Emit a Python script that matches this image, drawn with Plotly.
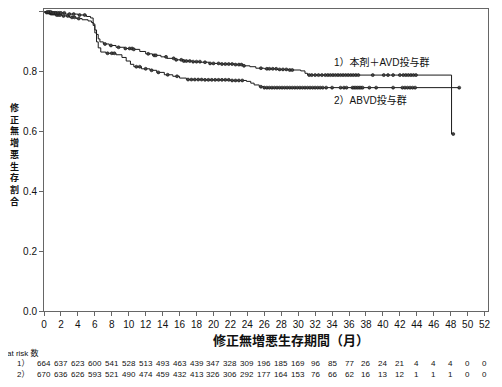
import plotly.graph_objects as go
import numpy as np

# ---- data ----
g1_label = "1）本剤＋AVD投与群"
g2_label = "2）ABVD投与群"

g1_t = [0, 0.3, 0.8, 1.5, 2.2, 3.0, 3.8, 4.5, 5.2, 5.6, 5.8, 6.0, 6.2, 6.4, 6.6, 7.0, 7.7, 8.5, 9.5,
        10.5, 11.3, 12.0, 12.8, 13.8, 14.5, 15.5, 16.5, 17.5, 18.5, 19.5, 21.0, 22.5, 23.5, 24.3,
        25.0, 26.0, 27.5, 29.0, 30.3, 30.8, 31.1, 48.1]
g1_s = [1.0, 0.998, 0.995, 0.99, 0.987, 0.982, 0.978, 0.974, 0.97, 0.965, 0.955, 0.94, 0.925, 0.91,
        0.90, 0.893, 0.888, 0.882, 0.878, 0.875, 0.868, 0.86, 0.855, 0.85, 0.845, 0.84, 0.836,
        0.834, 0.832, 0.828, 0.826, 0.824, 0.82, 0.817, 0.812, 0.81, 0.808, 0.806, 0.803, 0.795,
        0.789, 0.592]
g1_end = 48.3

g2_t = [0, 1.0, 2.5, 4.0, 5.0, 5.5, 5.8, 6.0, 6.2, 6.4, 6.7, 7.3, 8.5, 9.2, 9.7, 10.2, 10.6, 11.5,
        12.5, 13.3, 14.2, 15.2, 16.0, 16.8, 19.0, 22.0, 23.9, 24.4, 24.8, 25.4, 26.0]
g2_s = [1.0, 0.997, 0.993, 0.99, 0.985, 0.98, 0.96, 0.93, 0.90, 0.88, 0.866, 0.862, 0.857, 0.848,
        0.836, 0.825, 0.817, 0.81, 0.805, 0.798, 0.79, 0.785, 0.779, 0.774, 0.773, 0.771, 0.768,
        0.762, 0.756, 0.75, 0.747]
g2_end = 49.0

g1_censor = [0.3, 0.5, 0.7, 0.8, 0.9, 1.0, 1.1, 1.2, 1.3, 1.4, 1.5, 1.7, 1.9, 2.3, 2.8, 3.3, 3.6, 4.1,
             7.2, 7.9, 8.8, 9.6, 10.1, 10.4, 10.6, 12.3, 13.0, 13.2, 14.4, 15.3, 15.6, 16.2, 16.5,
             16.8, 17.2, 17.6, 18.0, 18.4, 19.0, 19.6, 20.0, 20.6, 21.0, 21.4, 21.8, 22.2, 22.6,
             23.0, 23.3, 23.6, 25.6, 26.3, 26.6, 27.0, 27.4, 27.8, 28.2, 28.6, 29.0, 29.3, 31.3,
             31.6, 32.0, 32.4, 32.8, 33.2, 33.5, 33.8, 34.1, 34.4, 34.7, 35.0, 35.3, 35.6, 35.9,
             36.2, 36.5, 36.8, 37.1, 38.8, 40.1, 40.6, 41.2, 42.0, 42.4, 42.7, 43.0, 43.3, 43.6,
             43.9, 48.3]
g2_censor = [0.4, 0.6, 0.8, 1.0, 1.2, 1.4, 1.6, 1.8, 2.0, 2.4, 3.0, 3.5, 4.2, 4.8, 7.5, 8.0, 8.3,
             10.9, 11.3, 12.0, 12.7, 13.5, 14.6, 15.7, 17.0, 17.4, 17.8, 18.2, 18.6, 19.0, 19.4,
             19.8, 20.2, 20.6, 21.0, 21.4, 21.8, 22.2, 22.6, 23.0, 23.4, 25.6, 26.0, 26.3, 26.6,
             26.9, 27.2, 27.5, 27.8, 28.1, 28.4, 28.7, 29.0, 29.3, 29.6, 29.9, 30.2, 30.5, 30.8,
             31.1, 31.4, 31.7, 32.0, 32.3, 32.6, 32.9, 33.3, 34.0, 35.0, 35.4, 35.7, 36.4, 36.6,
             36.8, 37.0, 37.2, 37.4, 37.6, 38.4, 39.2, 41.2, 42.3, 42.6, 42.9, 43.2, 43.5, 43.8, 49.0]

risk_times = list(range(0, 53, 2))
risk_g1 = [664, 637, 623, 600, 541, 528, 513, 493, 463, 439, 347, 328, 309, 196, 185, 169, 96, 85,
           77, 26, 24, 21, 4, 4, 4, 0, 0]
risk_g2 = [670, 636, 626, 593, 521, 490, 474, 459, 432, 413, 326, 306, 292, 177, 164, 153, 76, 66,
           62, 16, 13, 12, 1, 1, 1, 0, 0]

y_title = "修正無増悪生存割合"
x_title = "修正無増悪生存期間（月）"

FONT = "Liberation Sans, Arial, Noto Sans CJK JP"
LINE = "#1a1a1a"
AX = "#666666"


def step_val(ts, ss, t):
    idx = np.searchsorted(ts, t, side="right") - 1
    return ss[max(idx, 0)]


fig = go.Figure()
for ts, ss, end, cens in [(g1_t, g1_s, g1_end, g1_censor), (g2_t, g2_s, g2_end, g2_censor)]:
    xs = list(ts) + [end]
    ys = list(ss) + [ss[-1]]
    fig.add_trace(go.Scatter(x=xs, y=ys, mode="lines", line=dict(color=LINE, width=1, shape="hv"),
                             showlegend=False, hoverinfo="skip"))
    cy = [step_val(ts, ss, c) for c in cens]
    fig.add_trace(go.Scatter(x=cens, y=cy, mode="markers",
                             marker=dict(symbol="circle", size=3, color="#444444",
                                         line=dict(color="#111111", width=0.6)),
                             showlegend=False, hoverinfo="skip"))

# page body has an 8px margin: positions below are measured in window pixels
PX0, PY0, PW, PH = 44, 311, 444, 302   # plot-area left, bottom (window px), width, height

def px(xw):
    return (xw - PX0) / PW

def py(yw):
    return (PY0 - yw) / PH

ann = []
ann.append(dict(x=34.0, y=0.834, xref="x", yref="y", text=g1_label, showarrow=False,
                xanchor="left", yanchor="middle", font=dict(size=10, color="#111", family=FONT)))
ann.append(dict(x=34.0, y=0.706, xref="x", yref="y", text=g2_label, showarrow=False,
                xanchor="left", yanchor="middle", font=dict(size=10, color="#111", family=FONT)))
ann.append(dict(x=px(14), y=py(154), xref="paper", yref="paper",
                text="<b>" + "<br>".join(list(y_title)) + "</b>",
                showarrow=False, xanchor="center", yanchor="middle",
                font=dict(size=9, color="#111", family=FONT)))
ann.append(dict(x=px(291), y=py(340), xref="paper", yref="paper", text="<b>" + x_title + "</b>",
                showarrow=False, xanchor="center", yanchor="middle",
                font=dict(size=13, color="#111", family=FONT)))
ann.append(dict(x=px(5), y=py(353), xref="paper", yref="paper", text="at risk 数",
                showarrow=False, xanchor="left", yanchor="middle",
                font=dict(size=8, color="#111", family=FONT)))
for row, (lab, vals) in enumerate([("1）", risk_g1), ("2）", risk_g2)]):
    yw = 364 + row * 10
    ann.append(dict(x=px(23), y=py(yw), xref="paper", yref="paper", text=lab,
                    showarrow=False, xanchor="center", yanchor="middle",
                    font=dict(size=8, color="#111", family=FONT)))
    for t, v in zip(risk_times, vals):
        ann.append(dict(x=t, y=py(yw), xref="x", yref="paper", text=str(v),
                        showarrow=False, xanchor="center", yanchor="middle",
                        font=dict(size=8, color="#111", family=FONT)))

fig.update_layout(
    width=494, height=379,
    margin=dict(l=36, r=14, t=1, b=76, autoexpand=False),
    paper_bgcolor="white", plot_bgcolor="white",
    annotations=ann,
    font=dict(family=FONT, color="#111"),
)
fig.update_xaxes(range=[0, 52.4], tickmode="array", tickvals=risk_times, ticks="outside", ticklen=4,
                 tickcolor=AX, showline=True, linecolor=AX, linewidth=1, mirror=True, showgrid=False,
                 zeroline=False, automargin=False, tickfont=dict(size=10, family=FONT, color="#111"))
fig.update_yaxes(range=[0, 1.01], tickvals=[0, 0.2, 0.4, 0.6, 0.8, 1.0],
                 ticktext=["0.0", "0.2", "0.4", "0.6", "0.8", "1.0"], ticks="outside", ticklen=4,
                 tickcolor=AX, showline=True, linecolor=AX, linewidth=1, mirror=True, showgrid=False,
                 zeroline=False, automargin=False, tickfont=dict(size=10, family=FONT, color="#111"))

fig.write_html("out.html")
